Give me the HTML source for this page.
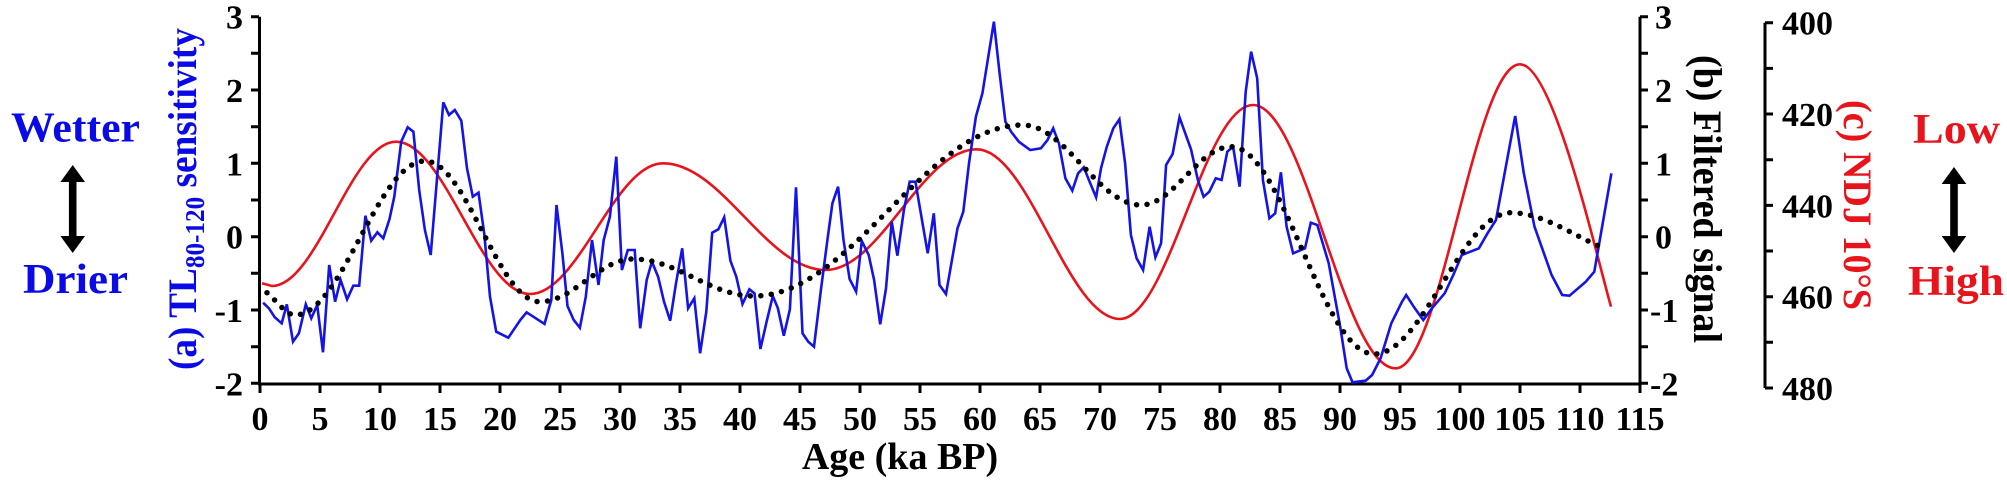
<!DOCTYPE html>
<html><head><meta charset="utf-8"><style>
html,body{margin:0;padding:0;background:#fff;}
svg{display:block;}
svg text{font-family:"Liberation Serif","Times New Roman","DejaVu Serif",serif !important;font-weight:bold;}
</style></head><body>
<svg width="2007" height="487" viewBox="0 0 2007 487" xmlns="http://www.w3.org/2000/svg" font-family="Liberation Serif, Times New Roman, DejaVu Serif, serif" font-weight="bold">
<g stroke="#000" stroke-width="3" fill="none">
<line x1="259.5" y1="16.7" x2="259.5" y2="385"/>
<line x1="258" y1="384" x2="1641.5" y2="384"/>
<line x1="1640" y1="16.7" x2="1640" y2="385"/>
<line x1="1765" y1="22.7" x2="1765" y2="388"/>
<path d="M251,16.7H259 M251,53.3H259 M251,90H259 M251,126.7H259 M251,163.3H259 M251,200H259 M251,236.7H259 M251,273.3H259 M251,310H259 M251,346.7H259 M251,383.3H259"/>
<path d="M1640,16.7H1648 M1640,53.3H1648 M1640,90H1648 M1640,126.7H1648 M1640,163.3H1648 M1640,200H1648 M1640,236.7H1648 M1640,273.3H1648 M1640,310H1648 M1640,346.7H1648 M1640,383.3H1648"/>
<path d="M1765,22.7H1773 M1765,68.4H1773 M1765,114H1773 M1765,159.7H1773 M1765,205.4H1773 M1765,251H1773 M1765,296.7H1773 M1765,342.3H1773 M1765,388H1773"/>
<path d="M260,384V393 M320,384V393 M380,384V393 M440,384V393 M500,384V393 M560,384V393 M620,384V393 M680,384V393 M740,384V393 M800,384V393 M860,384V393 M920,384V393 M980,384V393 M1040,384V393 M1100,384V393 M1160,384V393 M1220,384V393 M1280,384V393 M1340,384V393 M1400,384V393 M1460,384V393 M1520,384V393 M1580,384V393 M1640,384V393"/>
</g>
<g font-size="34" fill="#000" text-anchor="end">
<text x="243" y="28.7">3</text><text x="243" y="102">2</text><text x="243" y="175.3">1</text><text x="243" y="248.7">0</text><text x="243" y="322">-1</text><text x="243" y="395.3">-2</text>
</g>
<g font-size="34" fill="#000" text-anchor="start">
<text x="1655" y="28.7">3</text><text x="1655" y="102">2</text><text x="1655" y="175.3">1</text><text x="1655" y="248.7">0</text><text x="1650" y="322">-1</text><text x="1650" y="395.3">-2</text>
<text x="1782" y="34.7">400</text><text x="1782" y="126">420</text><text x="1782" y="217.4">440</text><text x="1782" y="308.7">460</text><text x="1782" y="400">480</text>
</g>
<g font-size="34" fill="#000" text-anchor="middle">
<text x="260" y="430">0</text><text x="320" y="430">5</text><text x="380" y="430">10</text><text x="440" y="430">15</text><text x="500" y="430">20</text><text x="560" y="430">25</text><text x="620" y="430">30</text><text x="680" y="430">35</text><text x="740" y="430">40</text><text x="800" y="430">45</text><text x="860" y="430">50</text><text x="920" y="430">55</text><text x="980" y="430">60</text><text x="1040" y="430">65</text><text x="1100" y="430">70</text><text x="1160" y="430">75</text><text x="1220" y="430">80</text><text x="1280" y="430">85</text><text x="1340" y="430">90</text><text x="1400" y="430">95</text><text x="1460" y="430">100</text><text x="1520" y="430">105</text><text x="1580" y="430">110</text><text x="1640" y="430">115</text>
</g>
<text x="900" y="469" font-size="38" text-anchor="middle" fill="#000">Age (ka BP)</text>

<path fill="none" stroke="#e8141c" stroke-width="2.6" d="M262,283.3 L272,286 C317.2,286 350.8,141.7 396,141.7 C444.8,141.7 481.2,294 530,294 C578.4,294 614.6,163.3 663,163.3 C722.2,163.3 766.3,270 825.5,270 C880.6,270 921.6,149.3 976.7,149.3 C1028.9,149.3 1067.8,319 1120,319 C1168.4,319 1204.6,105 1253,105 C1304.9,105 1343.7,368.3 1395.6,368.3 C1440.9,368.3 1474.7,64.3 1520,64.3 C1553,64.3 1595,250 1611,306.7"/>

<polyline fill="none" stroke="#1414e6" stroke-width="2.6" points="263.1,302.7 268.9,308.3 274.8,317.3 281.7,323.3 286.8,304.3 293,341.7 298.9,333.3 305.8,304.3 311.3,318.3 317.2,305 323,352.3 329.2,265 335.1,301.7 340.6,280 347.1,299.3 353.3,285.7 359.2,285.7 365.4,215.7 371.2,240.7 377.4,232.3 383.3,238.3 389.5,219 394.3,196.7 401.2,141.7 407.7,127.3 413.4,131.7 419.2,190 424.9,230 430.7,255 443.3,102.3 449,115 454.8,110 461.3,120.7 467,168.3 472.8,196.7 478.5,192.7 484.2,233.3 490,296.7 496.2,331.7 508.3,337.7 520.3,320 526.6,312.3 544.5,324 551.3,300 556.5,205 562.4,253.3 567.5,306 573.7,320 579.9,327.7 585.8,296.7 592,240 598.5,285 603.7,240 609.9,216.7 616.3,156.7 621.9,270 627.8,250 634.7,250 640.2,328.3 646.7,280 651.9,261.7 658.1,276.7 664,301.7 670.2,320.7 676,283.3 682.2,248.3 688.1,308.3 694.3,298.3 700.1,353.3 706.3,311.7 712.2,232.7 718.4,229.3 724.2,217.3 730.4,260.7 736.3,276.7 742.5,304 749.4,289.3 754.5,293.3 760.4,349 766.6,321.7 772.8,296 777.9,308.3 783.8,335.7 789.9,309.3 796,187.3 802.5,333.3 808.3,341.7 814,346.7 820.9,290 827.4,240 832.4,203.3 838.1,186.7 843.5,240 849.6,279 856.1,291.7 861.8,241 868.7,255 874.1,280 880.2,324.3 886,288.3 891.7,221.7 897.4,255.7 903.9,210 909.7,181.7 915.4,181.7 927.7,253.3 933.8,213.3 939.5,285 946,294 957.5,228.3 963.3,211.7 969,163.3 975.9,116.7 982.4,93.3 993.9,21.7 999.6,73.3 1005.4,121.7 1011.1,131.7 1018.8,141.7 1030.2,150 1040.9,148.3 1047.5,140 1053.2,128.3 1058.9,143.3 1065.4,178.3 1072.3,190.7 1078.1,173.3 1083.8,167.3 1089.6,181.7 1096.1,197.3 1101,168.3 1106.8,146.7 1113.3,128.3 1119.4,119.3 1125.1,163.3 1130.9,235 1136.6,258.3 1143.1,270 1149.6,226.7 1155.4,257.3 1161.1,243.3 1166.1,165 1172.6,154 1179.5,117.3 1191,149.3 1197.9,180 1203.6,196.7 1209.3,191.7 1215.8,178.3 1221.6,180 1227.3,151.7 1233.1,146.7 1239.6,186.7 1245.7,91.7 1251.1,51.7 1257.2,78.3 1262.9,180 1269.4,218.3 1275.2,213.3 1280.9,172.3 1286.6,226.7 1293.1,253.3 1305,248.3 1310.8,222.7 1317.3,225 1328.7,263.3 1340.2,326.7 1346.7,368.3 1352.5,382.3 1365.6,380.7 1372.1,375 1380.6,358.3 1391.3,323.3 1402,301.7 1406.2,295 1414.8,308.3 1423.3,320 1431.9,308.3 1444.7,293.3 1453.3,275 1461.8,255 1478.9,248.3 1487.5,233.3 1496,220 1515.2,116 1523.8,173.3 1534.5,226.7 1551.6,275 1562.2,295 1569.5,295.7 1585.8,281.7 1594.3,271.7 1611.4,173.3"/>

<path fill="none" stroke="#000" stroke-width="5.5" stroke-linecap="round" stroke-dasharray="0 10.5" d="M267,292.7 C276,300 286,315 294.8,315 C342.2,315 377.6,161 425,161 C466.8,161 497.9,301.7 539.7,301.7 C573.7,301.7 599,259 633,259 C677,259 710,296 754,296 C851.8,296 924.8,125 1022.6,125 C1065.7,125 1097.9,205 1141,205 C1173.8,205 1198.2,146.7 1231,146.7 C1283.1,146.7 1321.9,354 1374,354 C1423.9,354 1461.1,212.7 1511,212.7 C1545,212.7 1580,240 1605,248.3"/>

<text x="11" y="141.7" font-size="42" fill="#0a0ae6" textLength="129" lengthAdjust="spacingAndGlyphs">Wetter</text>
<text x="23" y="293" font-size="42" fill="#0a0ae6" textLength="105" lengthAdjust="spacingAndGlyphs">Drier</text>
<polygon fill="#000" points="72.7,165 85,182 76.5,182 76.5,236 85,236 72.7,253 60.4,236 68.9,236 68.9,182 60.4,182"/>
<text transform="translate(196,199) rotate(-90)" x="0" y="0" font-size="40" fill="#0a0ae6" text-anchor="middle" textLength="342" lengthAdjust="spacingAndGlyphs">(a) TL<tspan font-size="27" dy="8">80-120</tspan><tspan dy="-8"> sensitivity</tspan></text>

<text transform="translate(1694,199) rotate(90)" x="0" y="0" font-size="40" fill="#000" text-anchor="middle" textLength="288" lengthAdjust="spacingAndGlyphs">(b) Filtered signal</text>
<text transform="translate(1844,205) rotate(90)" x="0" y="0" font-size="40" fill="#e8141c" text-anchor="middle" textLength="210" lengthAdjust="spacingAndGlyphs">(c) NDJ 10°S</text>
<text x="1913" y="143" font-size="42" fill="#e8141c" textLength="87" lengthAdjust="spacingAndGlyphs">Low</text>
<text x="1908" y="295" font-size="42" fill="#e8141c" textLength="96" lengthAdjust="spacingAndGlyphs">High</text>
<polygon fill="#000" points="1954,167 1966.3,184 1957.8,184 1957.8,236 1966.3,236 1954,253 1941.7,236 1950.2,236 1950.2,184 1941.7,184"/>
</svg>
</body></html>
